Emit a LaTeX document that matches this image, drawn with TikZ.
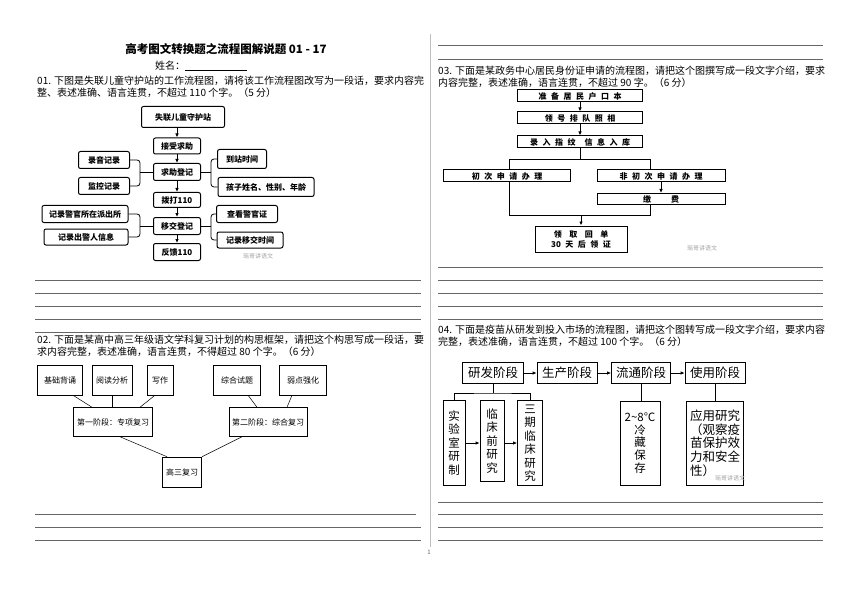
\documentclass[tikz,border=0pt]{standalone}
\usepackage{fontspec}
\setmainfont{Noto Sans CJK SC}
\usetikzlibrary{arrows.meta}
\newcommand\widesp{\spaceskip 4.5pt\relax}

\begin{document}
\begin{tikzpicture}[x=1pt, y=-1pt,
    txt/.style={anchor=west, inner sep=0pt, font=\fontsize{10}{12}\selectfont},
    ansline/.style={draw=black!60, line width=0.8pt},
    wm/.style={inner sep=0pt, text=black!35, font=\fontsize{6}{7}\selectfont},
    rbox/.style={draw, line width=1pt, rounded corners=2pt, inner sep=0pt,
                 minimum height=17pt, font=\bfseries\fontsize{8}{9}\selectfont},
    tbox/.style={draw, line width=0.5pt, inner sep=0pt, minimum height=30pt,
                 font=\fontsize{8}{9}\selectfont},
    sbox/.style={draw, line width=1pt, inner sep=0pt, minimum height=12pt, align=center,
                 font=\bfseries\fontsize{8}{10}\selectfont\widesp},
    pbox/.style={draw, line width=0.8pt, inner sep=0pt, minimum width=60pt,
                 minimum height=21pt, font=\fontsize{12.5}{14}\selectfont},
    vbox/.style={draw, line width=0.8pt, inner sep=0pt, align=center,
                 minimum height=85pt, font=\fontsize{11.5}{13.5}\selectfont},
    arr/.style={-{Latex[length=4pt,width=3.5pt]}, line width=0.8pt},
    lnk/.style={line width=0.8pt}
]
\useasboundingbox[fill=white] (0,0) rectangle (860,607);

% page frame
\draw[black!25, line width=0.6pt] (430,34) -- (430,547);
\node[font=\fontsize{6}{7}\selectfont, text=black!60] (pnum) at (429,552) {1};

\node[font=\bfseries\fontsize{11.5}{13}\selectfont] (title) at (226,49) {高考图文转换题之流程图解说题 01 - 17};
\node[txt] (name) at (155,66) {姓名：\underline{\hspace{62pt}}};

% ---------- 01 ----------
\node[txt] (q1a) at (37,81) {01. 下图是失联儿童守护站的工作流程图，请将该工作流程图改写为一段话，要求内容完};
\node[txt] (q1b) at (37,93) {整、表述准确、语言连贯，不超过 110 个字。（5 分）};

\node[rbox, minimum width=83pt, minimum height=21pt] (shouhu) at (183,117) {失联儿童守护站};
\node[rbox, minimum width=47pt, minimum height=16pt] (jieshou) at (177,146) {接受求助};
\node[rbox, minimum width=47pt] (qiuzhu) at (177,172) {求助登记};
\node[rbox, minimum width=47pt, minimum height=15pt] (boda) at (177,200) {拨打110};
\node[rbox, minimum width=47pt] (yijiao) at (177,226) {移交登记};
\node[rbox, minimum width=47pt] (fankui) at (177,252) {反馈110};
\node[rbox, minimum width=51pt] (luyin) at (104,160) {录音记录};
\node[rbox, minimum width=51pt] (jiankong) at (104,186) {监控记录};
\node[rbox, minimum width=49pt, minimum height=19pt] (daozhan) at (242,159) {到站时间};
\node[rbox, minimum width=96pt, minimum height=19pt] (haizi) at (266,187) {孩子姓名、性别、年龄};
\node[rbox, minimum width=86pt] (paichusuo) at (85,214) {记录警官所在派出所};
\node[rbox, minimum width=84pt, minimum height=16pt] (chujing) at (86,237) {记录出警人信息};
\node[rbox, minimum width=61pt] (jingguan) at (247,214) {查看警官证};
\node[rbox, minimum width=66pt, minimum height=16pt] (yjtime) at (250,240) {记录移交时间};
\node[wm] (wm1) at (258,256) {瑶哥讲语文};

\draw[arr] (jieshou.north |- shouhu.south) -- (jieshou.north);
\draw[arr] (jieshou) -- (qiuzhu);
\draw[arr] (qiuzhu) -- (boda);
\draw[arr] (boda) -- (yijiao);
\draw[arr] (yijiao) -- (fankui);

\draw[lnk, rounded corners=3pt] (luyin.east) -| ([xshift=-13pt]qiuzhu.west) |- (jiankong.east);
\draw[lnk] ([xshift=-13pt]qiuzhu.west) -- (qiuzhu.west);
\draw[lnk, rounded corners=3pt] (daozhan.west) -| ([xshift=10pt]qiuzhu.east) |- (haizi.west);
\draw[lnk] (qiuzhu.east) -- ([xshift=10pt]qiuzhu.east);
\draw[lnk, rounded corners=3pt] (paichusuo.east) -| ([xshift=-13pt]yijiao.west) |- (chujing.east);
\draw[lnk] ([xshift=-13pt]yijiao.west) -- (yijiao.west);
\draw[lnk, rounded corners=3pt] (jingguan.west) -| ([xshift=10pt]yijiao.east) |- (yjtime.west);
\draw[lnk] (yijiao.east) -- ([xshift=10pt]yijiao.east);

\foreach \y in {280,293,...,332} \draw[ansline] (35,\y) -- (421,\y);

% ---------- 02 ----------
\node[txt] (q2a) at (37,340) {02. 下面是某高中高三年级语文学科复习计划的构思框架，请把这个构思写成一段话，要};
\node[txt] (q2b) at (37,352) {求内容完整，表述准确，语言连贯，不得超过 80 个字。（6 分）};

\node[tbox, minimum width=45pt] (jichu) at (60,380) {基础背诵};
\node[tbox, minimum width=40pt] (yuedu) at (112,380) {阅读分析};
\node[tbox, minimum width=26pt] (xiezuo) at (160,380) {写作};
\node[tbox, minimum width=47pt] (shiti) at (237,380) {综合试题};
\node[tbox, minimum width=47pt] (ruodian) at (303,380) {弱点强化};
\node[tbox, minimum width=79pt, minimum height=29pt] (jieduan1) at (113,422) {第一阶段：专项复习};
\node[tbox, minimum width=78pt, minimum height=29pt] (jieduan2) at (268,422) {第二阶段：综合复习};
\node[tbox, minimum width=39pt] (gaosan) at (182,472) {高三复习};

\draw[lnk, line width=0.5pt] ([xshift=13pt]jichu.south) -- ([xshift=-21pt]jieduan1.north);
\draw[lnk, line width=0.5pt] (yuedu.south) -- (yuedu.south |- jieduan1.north);
\draw[lnk, line width=0.5pt] ([xshift=-5pt]xiezuo.south) -- ([xshift=27pt]jieduan1.north);
\draw[lnk, line width=0.5pt] ([xshift=11pt]shiti.south) -- ([xshift=-11pt]jieduan2.north);
\draw[lnk, line width=0.5pt] ([xshift=-11pt]ruodian.south) -- ([xshift=19pt]jieduan2.north);
\draw[lnk, line width=0.5pt] ([xshift=7pt]jieduan1.south) -- ([xshift=-15pt]gaosan.north);
\draw[lnk, line width=0.5pt] ([xshift=-26pt]jieduan2.south) -- ([xshift=20pt]gaosan.north);

\draw[ansline] (35,514) -- (416,514);
\foreach \y in {527,540} \draw[ansline] (35,\y) -- (421,\y);

% ---------- 03 ----------
\foreach \y in {45,59} \draw[ansline] (438,\y) -- (823,\y);
\node[txt] (q3a) at (438,71) {03. 下面是某政务中心居民身份证申请的流程图，请把这个图撰写成一段文字介绍，要求};
\node[txt] (q3b) at (438,83) {内容完整，表述准确，语言连贯，不超过 90 字。（6 分）};

\node[sbox, minimum width=125pt] (hukou) at (580,96) {准 备 居 民 户 口 本};
\node[sbox, minimum width=125pt] (zhaoxiang) at (580,118) {领 号 排 队 照 相};
\node[sbox, minimum width=125pt] (zhiwen) at (580,142) {录 入 指 纹 \ 信 息 入 库};
\node[sbox, minimum width=127pt] (chuci) at (507,176) {初 次 申 请 办 理};
\node[sbox, minimum width=128pt] (feichuci) at (661,176) {非 初 次 申 请 办 理};
\node[sbox, minimum width=128pt, minimum height=11pt] (jiaofei) at (661,199) {缴\hspace{20pt}费};
\node[sbox, minimum width=92pt, minimum height=26pt] (lingqu) at (581,239)
    {领\hspace{7.5pt}取\hspace{7.5pt}回\hspace{7.5pt}单\\30 天 后 领 证};
\node[wm] (wm2) at (702,248) {瑶哥讲语文};

\coordinate (forkL) at (509,159);
\coordinate (forkR) at (650,159);
\coordinate (joinL) at (509,215);
\coordinate (joinR) at (650,215);
\draw[arr] (hukou) -- (zhaoxiang);
\draw[arr] (zhaoxiang) -- (zhiwen);
\draw[lnk] (zhiwen.south) -- (zhiwen.south |- forkL);
\draw[lnk] (chuci.north -| forkL) -- (forkL) -- (forkR) -- (feichuci.north -| forkR);
\draw[arr] (feichuci) -- (jiaofei);
\draw[lnk] (chuci.south -| joinL) -- (joinL) -- (joinR) -- (jiaofei.south -| joinR);
\draw[arr] (lingqu.north |- joinL) -- (lingqu.north);

\foreach \y in {267,280,...,319} \draw[ansline] (438,\y) -- (823,\y);

% ---------- 04 ----------
\node[txt] (q4a) at (438,330) {04. 下面是疫苗从研发到投入市场的流程图，请把这个图转写成一段文字介绍，要求内容};
\node[txt] (q4b) at (438,342) {完整，表述准确，语言连贯，不超过 100 个字。（6 分）};

\node[pbox, minimum width=61pt] (yanfa) at (493,373) {研发阶段};
\node[pbox] (shengchan) at (567,373) {生产阶段};
\node[pbox, minimum width=59pt] (liutong) at (641,373) {流通阶段};
\node[pbox] (shiyong) at (715,373) {使用阶段};
\node[vbox, minimum width=22pt] (shiyan) at (454,443) {实\\验\\室\\研\\制};
\node[vbox, minimum width=24pt, minimum height=81pt] (linchuang) at (492,441) {临\\床\\前\\研\\究};
\node[vbox, minimum width=25pt] (sanqi) at (530,443) {三\\期\\临\\床\\研\\究};
\node[vbox, minimum width=40pt, minimum height=84pt,
      font=\fontsize{11.5}{12.7}\selectfont] (lengcang) at (640,443) {2\textasciitilde 8℃\\冷\\藏\\保\\存};
\node[vbox, minimum width=57pt, minimum height=84pt, align=left,
      font=\fontsize{12.5}{13.7}\selectfont] (yingyong) at (715,443) {应用研究\\（观察疫\\苗保护效\\力和安全\\性）};
\node[wm] (wm3) at (730,478) {瑶哥讲语文};

\coordinate (fork4) at (493,393);
\draw[arr] (yanfa) -- (shengchan);
\draw[arr] (shengchan) -- (liutong);
\draw[arr] (liutong) -- (shiyong);
\draw[lnk] (yanfa.south) -- (fork4);
\draw[lnk] (shiyan.north) |- (fork4) -| (sanqi.north);
\draw[arr] (shiyan.east) -- (shiyan.east -| linchuang.west);
\draw[arr] (linchuang.east |- shiyan.east) -- (sanqi.west |- shiyan.east);
\draw[lnk] (liutong.south) -- (liutong.south |- lengcang.north);
\draw[lnk] (shiyong.south) -- (shiyong.south |- yingyong.north);

\foreach \y in {502,514,527,540} \draw[ansline] (438,\y) -- (823,\y);
\end{tikzpicture}
\end{document}
